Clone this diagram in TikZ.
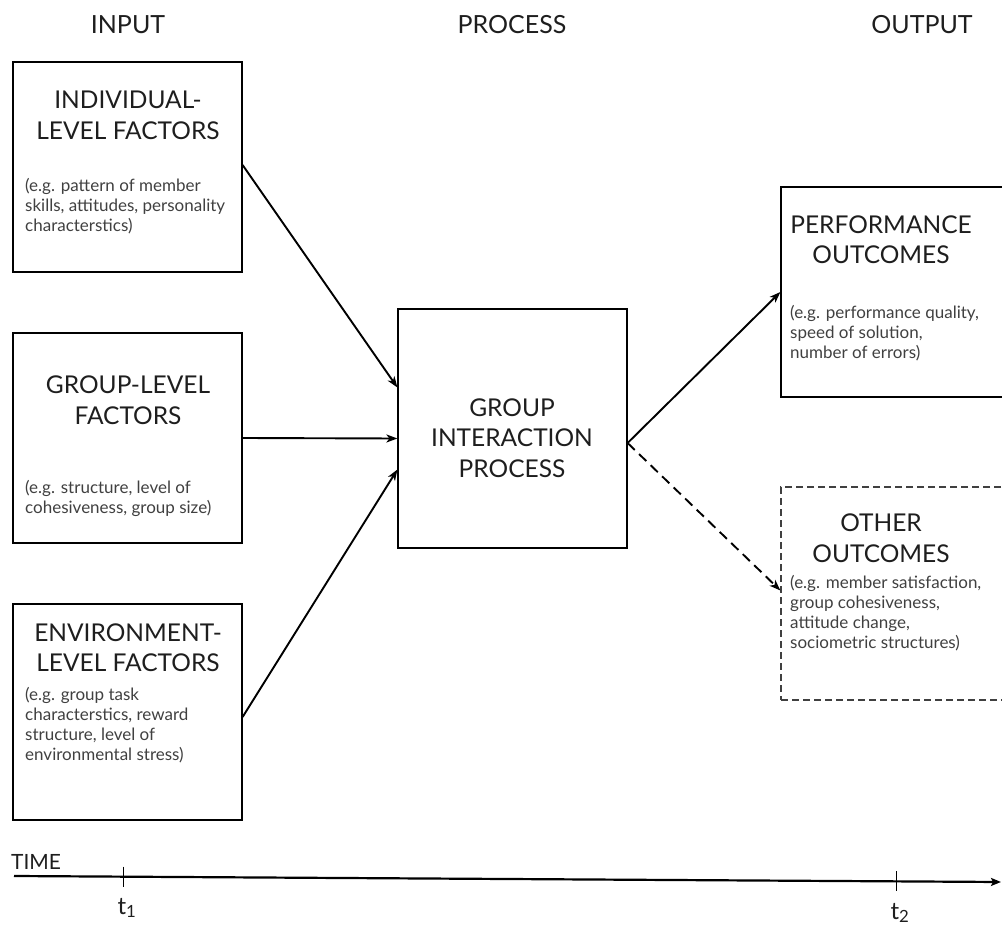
\documentclass[tikz,border=0pt]{standalone}
\usepackage{fontspec}
\setmainfont{Lato}
\usetikzlibrary{arrows.meta}
\definecolor{titlegray}{HTML}{1E1E1E}
\definecolor{descgray}{HTML}{404040}
\begin{document}
\begin{tikzpicture}[x=1pt,y=-1pt,
  box/.style={draw=black,line width=1.2pt,rectangle,inner sep=0pt},
  dbox/.style={box,dashed,dash pattern=on 7pt off 4pt,draw=black!75},
  heading/.style={font=\fontsize{25}{29}\selectfont,text=titlegray},
  title/.style={align=center,font=\fontsize{24.5}{30.5}\selectfont,text=titlegray,inner sep=0pt},
  desc/.style={align=left,anchor=west,font=\fontsize{17}{20}\selectfont,text=descgray,inner sep=0pt},
  link/.style={line width=1.9pt,-{Stealth[length=11pt,width=8pt,inset=3pt]}},
  dlink/.style={link,dash pattern=on 10pt off 6pt}]
\useasboundingbox (0,0) rectangle (1002,928);

% column headings
\node[heading] (hin)  at (128,25) {INPUT};
\node[heading] (hpro) at (512,25) {PROCESS};
\node[heading] (hout) at (922,25) {OUTPUT};

% input boxes
\node[box,minimum width=229pt,minimum height=210pt] (ind) at (127.5,167) {};
\node[title] (indt) at (128,115.5) {INDIVIDUAL-\\LEVEL FACTORS};
\node[desc] (indd) at (25,206) {(e.g. pattern of member\\skills, attitudes, personality\\characterstics)};

\node[box,minimum width=229pt,minimum height=210pt] (grp) at (127.5,438) {};
\node[title] (grpt) at (128,400) {GROUP-LEVEL\\FACTORS};
\node[desc] (grpd) at (25,498) {(e.g. structure, level of\\cohesiveness, group size)};

\node[box,minimum width=229pt,minimum height=216pt] (env) at (127.5,712) {};
\node[title] (envt) at (128,647.5) {ENVIRONMENT-\\LEVEL FACTORS};
\node[desc] (envd) at (25,725) {(e.g. group task\\characterstics, reward\\structure, level of\\environmental stress)};

% process box
\node[box,minimum width=229pt,minimum height=239pt] (proc) at (512.5,428.5) {};
\node[title] (proct) at (512,438) {GROUP\\INTERACTION\\PROCESS};

% output boxes (running off the right margin)
\node[box,minimum width=229pt,minimum height=210pt] (perf) at (895.5,292) {};
\node[title] (perft) at (881,239.5) {PERFORMANCE\\OUTCOMES};
\node[desc] (perfd) at (790,333) {(e.g. performance quality,\\speed of solution,\\number of errors)};

\node[dbox,minimum width=229pt,minimum height=213pt] (oth) at (895.5,593.5) {};
\node[title] (otht) at (881,538) {OTHER\\OUTCOMES};
\node[desc] (othd) at (790,613) {(e.g. member satisfaction,\\group cohesiveness,\\attitude change,\\sociometric structures)};

% connectors
\draw[link] ([yshift=2pt]ind.east) -- ([yshift=41pt]proc.west);
\draw[link] (grp.east) -- ([yshift=-10pt]proc.west);
\draw[link] ([yshift=-5pt]env.east) -- ([yshift=-41pt]proc.west);
\draw[link] ([yshift=-14.5pt]proc.east) -- (perf.west);
\draw[dlink] ([yshift=-14.5pt]proc.east) -- ([yshift=3pt]oth.west);

% time axis
\coordinate (ts) at (14,876);
\coordinate (te) at (1001,882);
\node[heading,font=\fontsize{21}{24}\selectfont,anchor=west,inner sep=0pt] (time) at (11,862) {TIME};
\draw[line width=2.2pt,-{Stealth[length=10pt,width=8pt,inset=2pt]}] (ts) -- (te);
\coordinate (t1) at (123,876.7);
\coordinate (t2) at (896,881.4);
\draw[line width=1pt] ([yshift=10pt]t1) -- ([yshift=-10pt]t1);
\draw[line width=1pt] ([yshift=10pt]t2) -- ([yshift=-10pt]t2);
\node[heading,font=\fontsize{24}{28}\selectfont] (t1l) at (127,908) {t\textsubscript{1}};
\node[heading,font=\fontsize{24}{28}\selectfont] (t2l) at (900,913) {t\textsubscript{2}};
\end{tikzpicture}
\end{document}
